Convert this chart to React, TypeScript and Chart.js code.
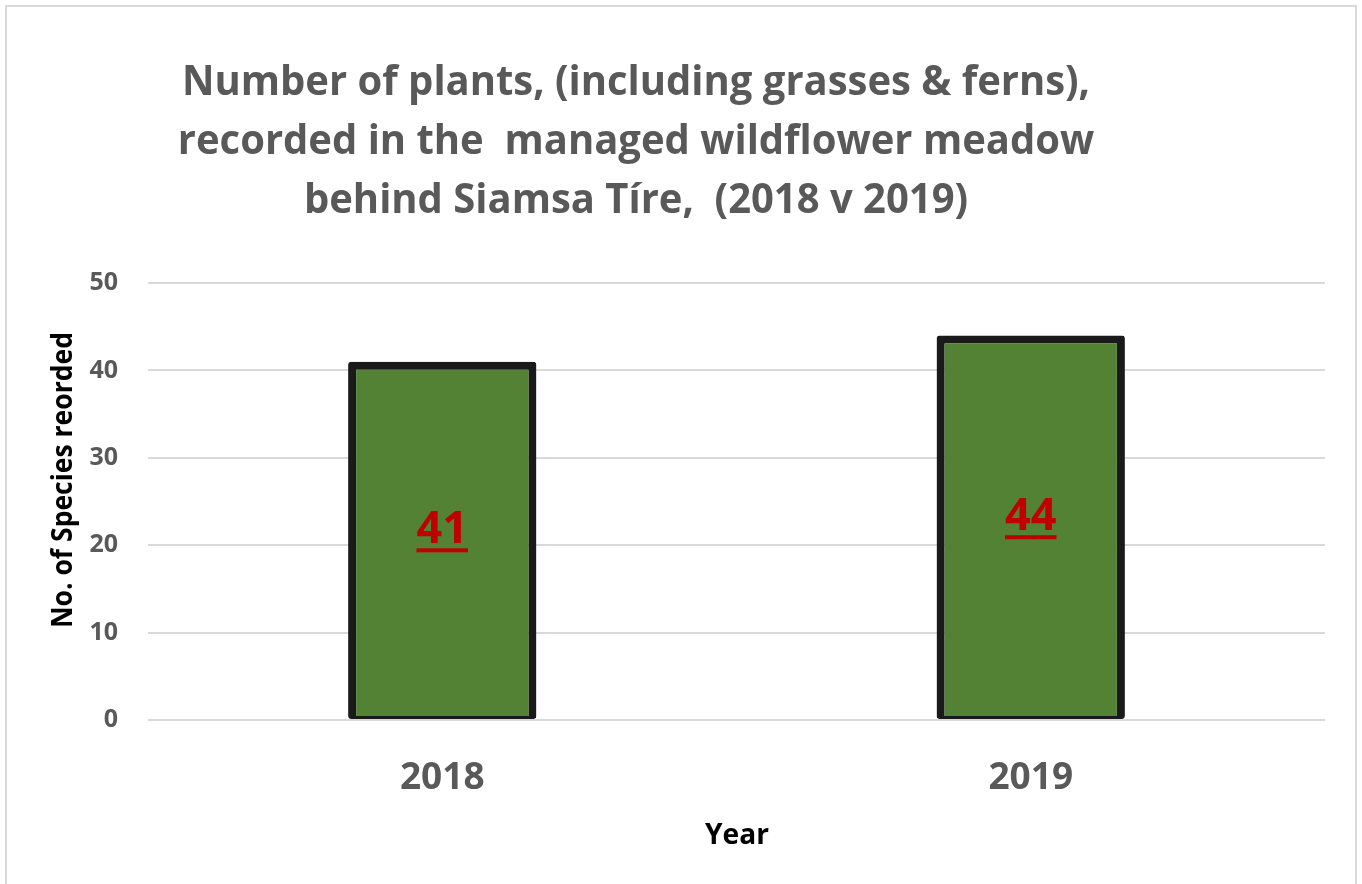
import React, { useEffect, useRef } from "react";
import { Chart, registerables } from "chart.js";

Chart.register(...registerables);

const categories = ["2018", "2019"];
const speciesCounts = [41, 44];
const yTicks = [0, 10, 20, 30, 40, 50];
const titleLines = [
  "Number of plants, (including grasses & ferns),",
  "recorded in the  managed wildflower meadow",
  "behind Siamsa Tíre,  (2018 v 2019)",
];
const yTitle = "No. of Species reorded";
const xTitle = "Year";

const FONT = "'Open Sans', Lato, sans-serif";

const decorPlugin = {
  id: "decor",
  beforeDraw(chart: any) {
    const ctx = chart.ctx;
    ctx.save();
    ctx.fillStyle = "#ffffff";
    ctx.fillRect(0, 0, chart.width, chart.height);
    ctx.strokeStyle = "#d9d9d9";
    ctx.lineWidth = 2;
    ctx.strokeRect(6, 6, 1350, 900);
    ctx.restore();
  },
  afterDatasetsDraw(chart: any) {
    const ctx = chart.ctx;
    const meta = chart.getDatasetMeta(0);
    ctx.save();
    ctx.fillStyle = "#C00000";
    ctx.textAlign = "center";
    ctx.textBaseline = "alphabetic";
    ctx.font = `bold 45px ${FONT}`;
    meta.data.forEach((bar: any, i: number) => {
      const label = String(speciesCounts[i]);
      const mid = (bar.y + bar.base) / 2;
      const baseline = mid + 3;
      ctx.fillText(label, bar.x, baseline);
      const w = ctx.measureText(label).width;
      ctx.fillRect(bar.x - w / 2, baseline + 5, w, 4);
    });
    ctx.restore();
  },
  afterDraw(chart: any) {
    const ctx = chart.ctx;
    ctx.save();
    ctx.fillStyle = "#595959";
    ctx.textAlign = "center";
    ctx.textBaseline = "alphabetic";
    ctx.font = `bold 42px ${FONT}`;
    const w0 = ctx.measureText(titleLines[0]).width;
    const sx = Math.min(1, 908 / w0);
    const ys = [95, 154, 213];
    titleLines.forEach((t, i) => {
      ctx.save();
      ctx.translate(636, ys[i]);
      ctx.scale(sx, 1);
      ctx.fillText(t, 0, 0);
      ctx.restore();
    });

    ctx.fillStyle = "#000000";
    ctx.font = `bold 29px ${FONT}`;
    ctx.fillText(xTitle, 737, 844, 64);

    ctx.translate(72, 480);
    ctx.rotate(-Math.PI / 2);
    ctx.font = `bold 28px ${FONT}`;
    ctx.fillText(yTitle, 0, 0, 296);
    ctx.restore();
  },
};

export default function App() {
  const ref = useRef<HTMLCanvasElement>(null);
  useEffect(() => {
    if (!ref.current) return;
    const chart = new Chart(ref.current, {
      type: "bar",
      data: {
        labels: categories,
        datasets: [
          {
            data: speciesCounts,
            backgroundColor: "#548235",
            borderColor: "#1a1a1a",
            borderWidth: { top: 8, left: 8, right: 8, bottom: 3 } as any,
            borderSkipped: false,
            borderRadius: 3,
            barPercentage: 0.32,
            categoryPercentage: 1,
          },
        ],
      },
      options: {
        animation: false,
        responsive: false,
        maintainAspectRatio: false,
        layout: { padding: { left: 0, right: 37, top: 283, bottom: 0 } },
        plugins: {
          legend: { display: false },
          tooltip: { enabled: false },
          title: { display: false },
        },
        scales: {
          x: {
            grid: { display: false, drawTicks: false },
            border: { display: false },
            ticks: {
              color: "#595959",
              font: { family: FONT, size: 37, weight: "bold" },
              padding: 36,
            },
            afterFit(scale: any) {
              scale.height = 164;
            },
          },
          y: {
            min: 0,
            max: 50,
            grid: { color: "#d9d9d9", lineWidth: 2, drawTicks: false },
            border: { display: false },
            afterBuildTicks(scale: any) {
              scale.ticks = yTicks.map((v) => ({ value: v }));
            },
            ticks: {
              color: "#595959",
              font: { family: FONT, size: 25, weight: "bold" },
              padding: 30,
            },
            afterFit(scale: any) {
              scale.width = 148;
            },
          },
        },
      },
      plugins: [decorPlugin],
    });
    return () => chart.destroy();
  }, []);
  return (
    <div style={{ position: "fixed", left: 0, top: 0, width: 1362, height: 884, background: "#fff" }}>
      <canvas ref={ref} width={1362} height={884} style={{ width: 1362, height: 884, display: "block" }} />
    </div>
  );
}
